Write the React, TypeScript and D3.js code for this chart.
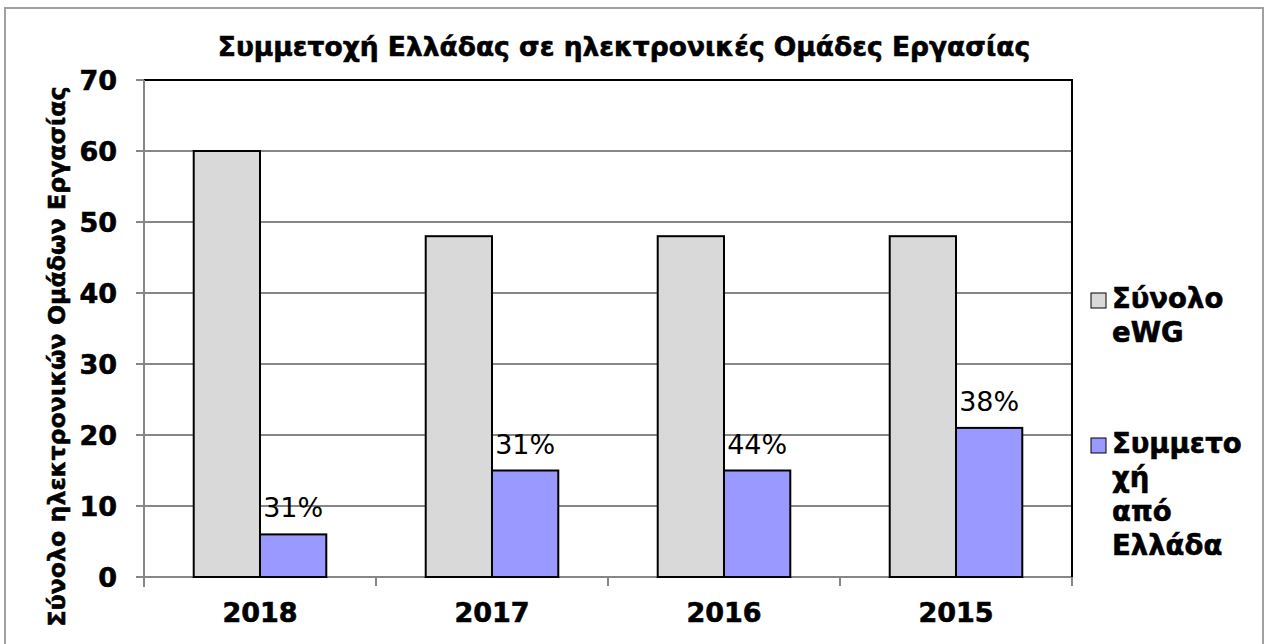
import * as d3 from "d3";

const YEARS = ["2018", "2017", "2016", "2015"];
const TOTAL_EWG = [60, 48, 48, 48];
const GREECE = [6, 15, 15, 21];
const PCT_LABELS = ["31%", "31%", "44%", "38%"];
const Y_TICKS = [0, 10, 20, 30, 40, 50, 60, 70];
const SERIES = ["total", "greece"];
const LEGEND = [
  { key: "total", lines: ["Σύνολο", "eWG"], color: "#d9d9d9" },
  { key: "greece", lines: ["Συμμετο", "χή", "από", "Ελλάδα"], color: "#9999ff" },
];

const W = 1270;
const H = 644;
const FONT = "'DejaVu Sans', Verdana, sans-serif";
const plot = { left: 144, right: 1072, top: 80, bottom: 577 };
// a hairline outline makes DejaVu bold look closer to Verdana bold
const heavy = { fontWeight: "bold" as const, stroke: "#000", strokeWidth: 0.6 };

export default function App() {
  const x = d3.scaleBand<string>().domain(YEARS).range([plot.left, plot.right]).padding(0);
  const inner = d3
    .scaleBand<string>()
    .domain(SERIES)
    .range([0, x.bandwidth()])
    .paddingInner(0)
    .paddingOuter(0.75);
  const y = d3.scaleLinear().domain([0, 70]).range([plot.bottom, plot.top]);

  const bars = YEARS.flatMap((yr, i) => [
    { yr, s: "total", v: TOTAL_EWG[i], fill: "#d9d9d9" },
    { yr, s: "greece", v: GREECE[i], fill: "#9999ff" },
  ]);

  return (
    <svg
      width={W}
      height={H}
      style={{ position: "absolute", left: 0, top: 0, background: "#fff" }}
      fontFamily={FONT}
    >
      <rect x={5} y={8} width={1258} height={640} fill="#fff" stroke="#a0a0a0" strokeWidth={2} />

      <text x={624} y={56} textAnchor="middle" fontSize={26.5} fill="#000" {...heavy}>
        Συμμετοχή Ελλάδας σε ηλεκτρονικές Ομάδες Εργασίας
      </text>

      {/* gridlines */}
      {Y_TICKS.map((t) => (
        <line
          key={"g" + t}
          x1={plot.left - 8}
          x2={plot.right}
          y1={y(t)}
          y2={y(t)}
          stroke="#868686"
          strokeWidth={2}
        />
      ))}
      {/* plot frame top / right */}
      <path
        d={`M${plot.left},${plot.top}H${plot.right}V${plot.bottom}`}
        fill="none"
        stroke="#000"
        strokeWidth={2}
      />
      {/* axes */}
      <line x1={plot.left} x2={plot.left} y1={plot.top} y2={plot.bottom + 10} stroke="#868686" strokeWidth={2} />
      {[...YEARS.map((yr) => x(yr)!), plot.right].map((px, i) => (
        <line key={"xt" + i} x1={px} x2={px} y1={plot.bottom} y2={plot.bottom + 9} stroke="#868686" strokeWidth={2} />
      ))}

      {bars.map((b) => (
        <rect
          key={b.yr + b.s}
          x={x(b.yr)! + inner(b.s)!}
          y={y(b.v)}
          width={inner.bandwidth()}
          height={y(0) - y(b.v)}
          fill={b.fill}
          stroke="#000"
          strokeWidth={2}
        />
      ))}

      {YEARS.map((yr, i) => (
        <text
          key={"pl" + yr}
          x={x(yr)! + inner("greece")! + inner.bandwidth() / 2}
          y={y(GREECE[i]) - 17}
          textAnchor="middle"
          fontSize={27}
          fill="#000"
        >
          {PCT_LABELS[i]}
        </text>
      ))}

      {Y_TICKS.map((t) => (
        <text key={"yl" + t} x={117} y={y(t) + 10} textAnchor="end" fontSize={27} fill="#000" {...heavy}>
          {t}
        </text>
      ))}

      {YEARS.map((yr) => (
        <text
          key={"xl" + yr}
          x={x(yr)! + x.bandwidth() / 2}
          y={622}
          textAnchor="middle"
          fontSize={27}
          fill="#000"
          {...heavy}
        >
          {yr}
        </text>
      ))}

      <text
        transform={`translate(65,${(85 + 628) / 2}) rotate(-90)`}
        textAnchor="middle"
        fontSize={23.7}
        fill="#000"
        {...heavy}
      >
        Σύνολο ηλεκτρονικών Ομάδων Εργασίας
      </text>

      {LEGEND.map((l, li) => {
        const y0 = li === 0 ? 308 : 453;
        return (
          <g key={l.key}>
            <rect x={1091} y={y0 - 15} width={15} height={15} fill={l.color} stroke="#000" strokeWidth={1} />
            {l.lines.map((ln, j) => (
              <text key={j} x={1112} y={y0 + j * 34} fontSize={27.5} fill="#000" {...heavy}>
                {ln}
              </text>
            ))}
          </g>
        );
      })}
    </svg>
  );
}
